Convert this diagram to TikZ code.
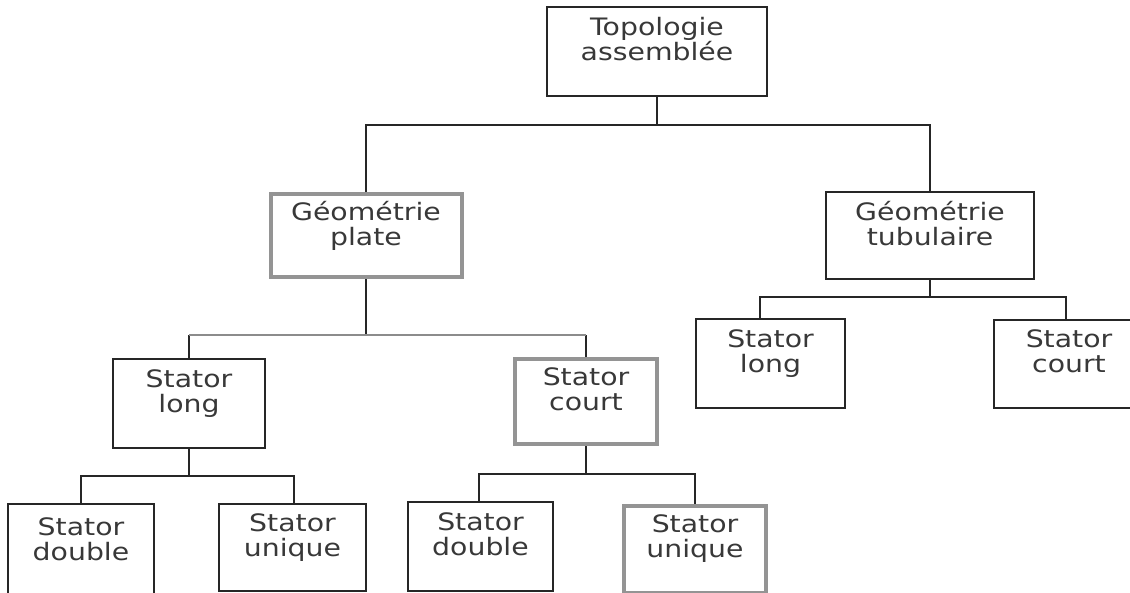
\documentclass[tikz,border=0pt]{standalone}
\usepackage{fontspec}
\setmainfont{DejaVu Sans}[FakeStretch=1.18]

\begin{document}
\begin{tikzpicture}[x=1pt, y=-1pt, font=\fontsize{24}{25}\selectfont]
  \tikzstyle{box}=[draw=black!85, line width=1.3pt, text=black!78, align=center,
                   inner sep=0pt, minimum width=147pt, minimum height=88pt]
  \tikzstyle{hbox}=[box, draw=black!42, line width=4pt, minimum width=142pt, minimum height=85pt]
  \tikzstyle{lnk}=[draw=black!85, line width=1.3pt]

  \clip (0,0) rectangle (1130,592);
  \fill[white] (0,0) rectangle (1130,592);

  % --- niveau 0 ---
  \node[box, minimum width=220pt, minimum height=89pt] (top) at (657,51.5) {Topologie\\assemblée\\\mbox{}};

  % --- niveau 1 ---
  \node[hbox, minimum width=191pt, minimum height=83pt] (gp) at (366,235.5) {Géométrie\\plate\\\mbox{}};
  \node[box, minimum width=208pt, minimum height=87pt]  (gt) at (930,235.5) {Géométrie\\tubulaire\\\mbox{}};

  % --- niveau 2 ---
  \node[box, minimum width=152pt, minimum height=89pt] (sl)  at (189,403.5)  {Stator\\long\\\mbox{}};
  \node[hbox] (sc)  at (586,401.5)  {Stator\\court\\\mbox{}};
  \node[box, minimum width=149pt, minimum height=89pt] (sl2) at (770.5,363.5) {Stator\\long\\\mbox{}};
  \node[box, minimum width=150pt] (sc2) at (1069,364)  {Stator\\court\\\mbox{}};

  % --- niveau 3 ---
  \node[box, minimum width=146pt, minimum height=96pt] (sd)  at (81,552)     {Stator\\double\\\mbox{}};
  \node[box, minimum height=87pt] (su)  at (292.5,547.5) {Stator\\unique\\\mbox{}};
  \node[box, minimum width=145pt, minimum height=89pt] (sd2) at (480.5,546.5) {Stator\\double\\\mbox{}};
  \node[hbox, minimum height=87pt] (su2) at (695,549)   {Stator\\unique\\\mbox{}};

  % --- liaisons ---
  \coordinate (j1) at (657,125);
  \coordinate (j2) at (366,335);
  \coordinate (j3) at (930,297);
  \coordinate (j4) at (189,476);
  \coordinate (j5) at (586,474);

  \draw[lnk] (top) -- (j1);
  \draw[lnk] (gp.north) |- (j1) -| (gt.north);

  \draw[lnk] (gp) -- (j2);
  \draw[lnk] (sl.north) -- (sl.north |- j2);
  \draw[lnk] (sc.north) -- (sc.north |- j2);
  \draw[lnk, draw=black!45] (sl.north |- j2) -- (sc.north |- j2);

  \draw[lnk] (gt) -- (j3);
  \draw[lnk] ([xshift=-10.5pt]sl2.north) |- (j3) -| ([xshift=-3pt]sc2.north);

  \draw[lnk] (sl) -- (j4);
  \draw[lnk] (sd.north) |- (j4) -| ([xshift=1.5pt]su.north);

  \draw[lnk] (sc) -- (j5);
  \draw[lnk] ([xshift=-1.5pt]sd2.north) |- (j5) -| (su2.north);
\end{tikzpicture}
\end{document}
